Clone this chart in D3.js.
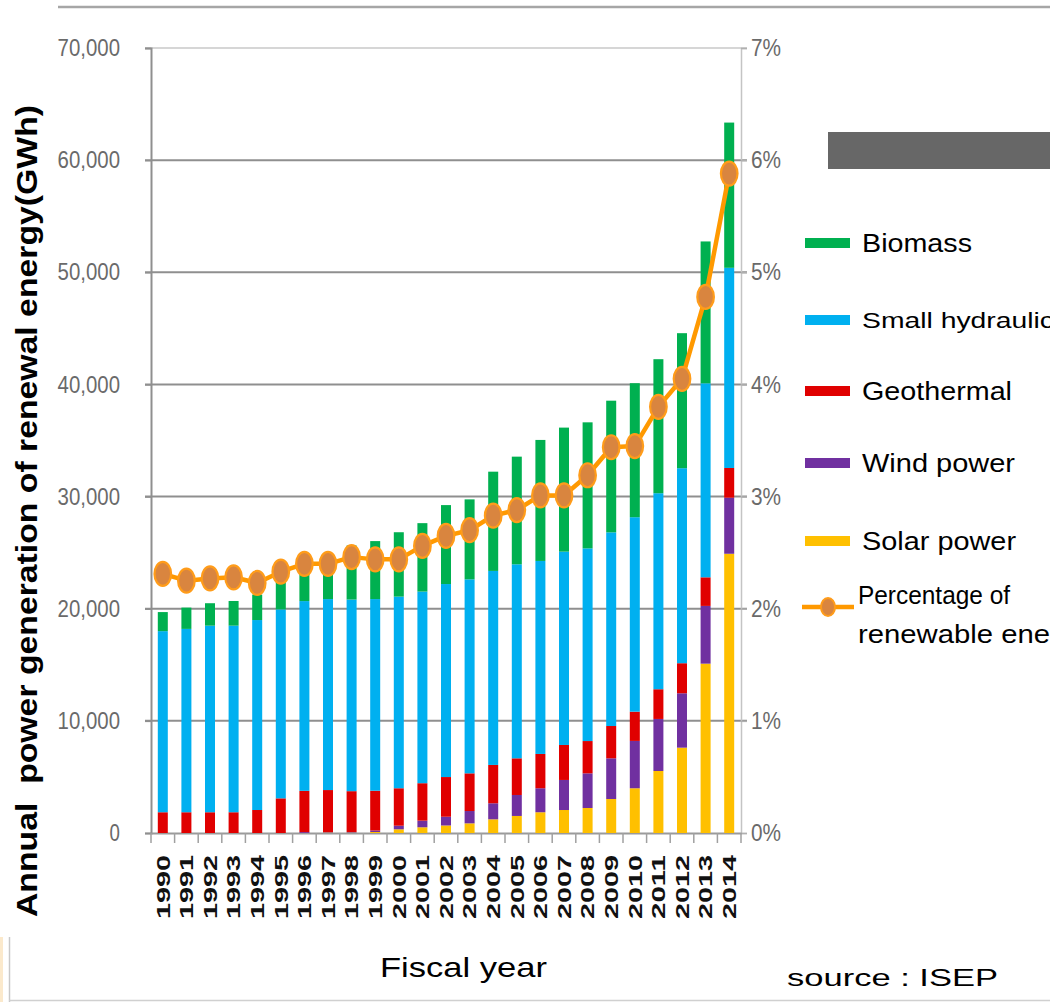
<!DOCTYPE html>
<html>
<head>
<meta charset="utf-8">
<script src="https://cdn.jsdelivr.net/npm/d3@7"></script>
<style>
  html, body { margin: 0; padding: 0; background: #fff; }
  svg { display: block; }
  text { font-family: "Liberation Sans", Arial, sans-serif; }
</style>
</head>
<body>
<svg id="chart" width="1050" height="1002"></svg>
<script>
// ---------- data ----------
const years = ["1990","1991","1992","1993","1994","1995","1996","1997","1998","1999",
               "2000","2001","2002","2003","2004","2005","2006","2007","2008","2009",
               "2010","2011","2012","2013","2014"];
const solar      = [0,0,0,0,0,0,0,40,40,90,330,510,670,860,1220,1520,1850,2050,2230,3030,3990,5530,7610,15100,24900];
const wind       = [0,0,0,0,0,0,80,40,50,130,320,590,780,1100,1430,1870,2140,2680,3090,3630,4220,4640,4850,5150,5000];
const geothermal = [1850,1850,1850,1850,2050,3090,3680,3750,3640,3550,3340,3340,3540,3360,3420,3270,3060,3120,2880,2880,2610,2650,2680,2550,2650];
const smallHydro = [16150,16350,16640,16640,16940,16850,16920,17030,17090,17090,17090,17090,17210,17300,17300,17300,17210,17240,17180,17270,17340,17480,17390,17300,17850];
const biomass    = [1700,1900,2000,2200,2270,2880,3030,3030,4820,5170,5740,6100,7040,7130,8850,9600,10790,11060,11240,11740,11950,11950,12040,12650,12950];
const percentage = [2.31,2.25,2.27,2.28,2.23,2.33,2.40,2.40,2.46,2.44,2.44,2.56,2.65,2.70,2.83,2.88,3.01,3.01,3.19,3.44,3.45,3.80,4.05,4.78,5.88];

const seriesKeys   = ["solar","wind","geothermal","smallHydro","biomass"];
const seriesColors = ["#FFC000","#7030A0","#E00000","#00B0F0","#00B050"];
const leftTicks  = [0,10000,20000,30000,40000,50000,60000,70000];
const rightTicks = [0,1,2,3,4,5,6,7];
const legendLabels = ["Biomass","Small hydraulic","Geothermal","Wind power","Solar power"];
const legendColors = ["#00B050","#00B0F0","#E00000","#7030A0","#FFC000"];

// ---------- layout ----------
const svg = d3.select("#chart");
const X0 = 151, X1 = 741, Y0 = 833, Y1 = 48;

const x = d3.scaleBand().domain(years).range([X0, X1]).padding(0);
const yL = d3.scaleLinear().domain([0, 70000]).range([Y0, Y1]);
const yR = d3.scaleLinear().domain([0, 7]).range([Y0, Y1]);

// decorative frame bits
svg.append("line").attr("x1", 58).attr("x2", 1050).attr("y1", 7).attr("y2", 7)
  .attr("stroke", "#a6a6a6").attr("stroke-width", 2.5);
svg.append("rect").attr("x", 0).attr("y", 937).attr("width", 3).attr("height", 65).attr("fill", "#fbe9cc");
svg.append("line").attr("x1", 9.5).attr("x2", 9.5).attr("y1", 937).attr("y2", 1002)
  .attr("stroke", "#c8c8c8").attr("stroke-width", 1.5);
svg.append("line").attr("x1", 9).attr("x2", 1050).attr("y1", 1000.5).attr("y2", 1000.5)
  .attr("stroke", "#d0d0d0").attr("stroke-width", 1.5);
svg.append("rect").attr("x", 828).attr("y", 132).attr("width", 222).attr("height", 37).attr("fill", "#676767");

// gridlines
svg.append("g").selectAll("line").data(leftTicks.filter(d => d > 0)).join("line")
  .attr("x1", X0 - 6).attr("x2", X1 + 6)
  .attr("y1", d => yL(d)).attr("y2", d => yL(d))
  .attr("stroke", d => d === 70000 ? "#c8c8c8" : "#8f8f8f")
  .attr("stroke-width", d => d === 70000 ? 1.5 : 2);

// left axis
const axL = svg.append("g").attr("transform", `translate(${X0},0)`)
  .call(d3.axisLeft(yL).tickValues(leftTicks).tickSize(6).tickPadding(25)
        .tickFormat(d3.format(",")));
axL.select(".domain").attr("stroke", "#8f8f8f").attr("stroke-width", 2);
axL.selectAll(".tick line").attr("stroke", "#8f8f8f").attr("stroke-width", 1.5);
axL.selectAll(".tick text").attr("font-size", 24).attr("fill", "#6a6a6a")
  .attr("font-family", "'Liberation Sans', Arial, sans-serif")
  .attr("textLength", d => String(d3.format(",")(d)).length * 10.4)
  .attr("lengthAdjust", "spacingAndGlyphs");

// right axis
const axR = svg.append("g").attr("transform", `translate(${X1},0)`)
  .call(d3.axisRight(yR).tickValues(rightTicks).tickSize(6).tickPadding(4)
        .tickFormat(d => d + "%"));
axR.select(".domain").attr("stroke", "#c4c4c4").attr("stroke-width", 1.5);
axR.selectAll(".tick line").attr("stroke", "#b0b0b0").attr("stroke-width", 1.5);
axR.selectAll(".tick text").attr("font-size", 24).attr("fill", "#6a6a6a")
  .attr("font-family", "'Liberation Sans', Arial, sans-serif")
  .attr("textLength", 30).attr("lengthAdjust", "spacingAndGlyphs");

// bottom axis
const axB = svg.append("g").attr("transform", `translate(0,${Y0})`)
  .call(d3.axisBottom(x).tickSize(0).tickFormat(""));
axB.select(".domain").attr("stroke", "#9a9a9a").attr("stroke-width", 2);
// tick marks on band boundaries
svg.append("g").selectAll("line").data(years.concat(["end"])).join("line")
  .attr("x1", (d, i) => X0 + i * x.step()).attr("x2", (d, i) => X0 + i * x.step())
  .attr("y1", Y0).attr("y2", Y0 + 10)
  .attr("stroke", "#a0a0a0").attr("stroke-width", 1.5);

// stacked bars
const rows = years.map((yr, i) => ({
  year: yr, solar: solar[i], wind: wind[i], geothermal: geothermal[i],
  smallHydro: smallHydro[i], biomass: biomass[i]
}));
const stacked = d3.stack().keys(seriesKeys)(rows);
const barW = 10;
svg.append("g").selectAll("g").data(stacked).join("g")
  .attr("fill", (d, i) => seriesColors[i])
  .selectAll("rect").data(d => d).join("rect")
  .attr("x", d => x(d.data.year) + x.bandwidth() / 2 - barW / 2)
  .attr("width", barW)
  .attr("y", d => yL(d[1]))
  .attr("height", d => yL(d[0]) - yL(d[1]));

// percentage line
const line = d3.line()
  .x((d, i) => x(years[i]) + x.bandwidth() / 2)
  .y(d => yR(d));
svg.append("path").datum(percentage)
  .attr("d", line).attr("fill", "none")
  .attr("stroke", "#FF9900").attr("stroke-width", 4.5).attr("stroke-linejoin", "round");
svg.append("g").selectAll("ellipse").data(percentage).join("ellipse")
  .attr("cx", (d, i) => x(years[i]) + x.bandwidth() / 2)
  .attr("cy", d => yR(d))
  .attr("rx", 8.3).attr("ry", 12)
  .attr("fill", "#D9853F").attr("stroke", "#FF9C1A").attr("stroke-width", 2.2);

// x tick labels (rotated)
svg.append("g").selectAll("text").data(years).join("text")
  .attr("transform", d => `translate(${x(d) + x.bandwidth() / 2},919) rotate(-90)`)
  .attr("dy", "0.36em")
  .attr("font-size", 19).attr("font-weight", "bold").attr("fill", "#111")
  .attr("textLength", 64).attr("lengthAdjust", "spacingAndGlyphs")
  .text(d => d);

// axis titles
svg.append("text")
  .attr("transform", "translate(37,511) rotate(-90)")
  .attr("text-anchor", "middle")
  .attr("font-size", 29).attr("font-weight", "bold").attr("fill", "#000")
  .attr("textLength", 812).attr("lengthAdjust", "spacingAndGlyphs")
  .style("white-space", "pre")
  .text("Annual  power generation of renewal energy(GWh)");
svg.append("text")
  .attr("x", 380).attr("y", 977)
  .attr("font-size", 28).attr("fill", "#000")
  .attr("textLength", 167).attr("lengthAdjust", "spacingAndGlyphs")
  .text("Fiscal year");
svg.append("text")
  .attr("x", 787).attr("y", 986)
  .attr("font-size", 24).attr("fill", "#000")
  .attr("textLength", 211).attr("lengthAdjust", "spacingAndGlyphs")
  .style("white-space", "pre")
  .text("source : ISEP");

// legend
const legY = [243, 320, 391, 463, 541];
const legFont = [25, 22, 25, 25, 25];
const legLen = [110, 192, 150, 153, 154];
const leg = svg.append("g");
leg.selectAll("rect").data(legendLabels).join("rect")
  .attr("x", 805).attr("width", 45)
  .attr("y", (d, i) => legY[i] - 5).attr("height", 10)
  .attr("fill", (d, i) => legendColors[i]);
leg.selectAll("text").data(legendLabels).join("text")
  .attr("x", 862).attr("y", (d, i) => legY[i] + (legFont[i] === 22 ? 8 : 9))
  .attr("font-size", (d, i) => legFont[i]).attr("fill", "#000")
  .attr("textLength", (d, i) => legLen[i]).attr("lengthAdjust", "spacingAndGlyphs")
  .text(d => d);
leg.append("line").attr("x1", 802).attr("x2", 854).attr("y1", 607).attr("y2", 607)
  .attr("stroke", "#FF9900").attr("stroke-width", 4.5);
leg.append("ellipse").attr("cx", 828).attr("cy", 607).attr("rx", 7).attr("ry", 9)
  .attr("fill", "#D9853F").attr("stroke", "#FF9C1A").attr("stroke-width", 2);
leg.append("text").attr("x", 858).attr("y", 604).attr("font-size", 25).attr("fill", "#000")
  .attr("textLength", 152).attr("lengthAdjust", "spacingAndGlyphs")
  .text("Percentage of");
leg.append("text").attr("x", 858).attr("y", 643).attr("font-size", 25).attr("fill", "#000")
  .attr("textLength", 192).attr("lengthAdjust", "spacingAndGlyphs")
  .text("renewable ene");
</script>
</body>
</html>
